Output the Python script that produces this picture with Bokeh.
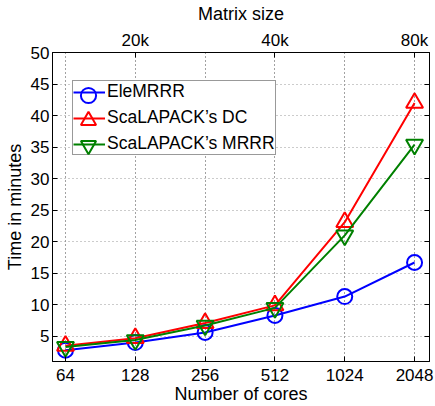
from bokeh.plotting import figure
from bokeh.models import (Range1d, LogAxis, FixedTicker, NumeralTickFormatter,
                          LinearAxis, Legend, LegendItem)
from bokeh.embed import file_html
from bokeh.resources import INLINE

# ---- data ----
cores = [64, 128, 256, 512, 1024, 2048]
matrix_ticks = [128, 512, 2048]
matrix_labels = ["20k", "40k", "80k"]
elemrrr = [2.8, 4.0, 5.6, 8.3, 11.3, 16.7]
scalapack_dc = [3.5, 4.7, 7.1, 9.9, 23.1, 42.0]
scalapack_mrrr = [3.3, 4.4, 6.7, 9.5, 21.0, 35.4]
y_ticks = [5, 10, 15, 20, 25, 30, 35, 40, 45, 50]

FONT = "Liberation Sans"
TICK_FS = "17px"
LABEL_FS = "18px"
LEG_FS = "17.5px"

p = figure(width=435, height=406, output_backend="svg", toolbar_location=None,
           x_axis_type="log",
           x_range=Range1d(64 / 2 ** 0.186, 2048 * 2 ** 0.214),
           y_range=Range1d(1, 50),
           min_border_left=52, min_border_right=6, min_border_top=49, min_border_bottom=40)
p.background_fill_color = "white"
p.border_fill_color = "white"
p.outline_line_color = "black"
p.outline_line_width = 1

def style_axis(ax):
    ax.major_tick_in = 5
    ax.major_tick_out = 0
    ax.minor_tick_line_color = None
    ax.axis_line_color = "black"
    ax.major_tick_line_color = "black"
    ax.major_label_text_font = FONT
    ax.major_label_text_font_size = TICK_FS
    ax.major_label_text_color = "black"
    ax.axis_label_text_font = FONT
    ax.axis_label_text_font_size = LABEL_FS
    ax.axis_label_text_font_style = "normal"
    ax.axis_label_text_color = "black"

# bottom axis
xa = p.xaxis[0]
xa.ticker = FixedTicker(ticks=cores)
xa.formatter = NumeralTickFormatter(format="0")
xa.axis_label = "Number of cores"
style_axis(xa)
xa.major_label_standoff = 7
xa.axis_label_standoff = 0

# left axis
ya = p.yaxis[0]
ya.ticker = FixedTicker(ticks=y_ticks)
ya.axis_label = "Time in minutes"
style_axis(ya)
ya.major_label_standoff = 3
ya.axis_label_standoff = 3

# top axis
top = LogAxis(ticker=FixedTicker(ticks=matrix_ticks), axis_label="Matrix size",
              major_label_overrides={t: l for t, l in zip(matrix_ticks, matrix_labels)})
style_axis(top)
top.major_label_standoff = 3
top.axis_label_standoff = 4
p.add_layout(top, "above")

# right axis (ticks only, no labels)
right = LinearAxis(ticker=FixedTicker(ticks=y_ticks),
                   major_label_overrides={t: "" for t in y_ticks})
style_axis(right)
right.major_label_standoff = 0
p.add_layout(right, "right")

# grids
p.xgrid.ticker = FixedTicker(ticks=cores)
p.xgrid.grid_line_color = "#444444"
p.xgrid.grid_line_dash = "1 3"
p.xgrid.grid_line_width = 1
p.ygrid.ticker = FixedTicker(ticks=y_ticks)
p.ygrid.grid_line_color = "#999999"
p.ygrid.grid_line_dash = "1 3"
p.ygrid.grid_line_width = 1

series = [
    ("EleMRRR", elemrrr, "#0000ff", "circle", 15),
    ("ScaLAPACK\u2019s DC", scalapack_dc, "#ff0000", "triangle", 17),
    ("ScaLAPACK\u2019s MRRR", scalapack_mrrr, "#008000", "inverted_triangle", 17),
]
line_items = []
marker_renderers = []
for name, vals, col, mk, sz in series:
    l = p.line(cores, vals, line_color=col, line_width=2)
    s = p.scatter(cores, vals, marker=mk, size=sz, line_color=col, line_width=2,
                  fill_color=None)
    line_items.append(LegendItem(label=name, renderers=[l]))
    marker_renderers.append(s)

LEG_X, LEG_Y = 20, 206
legend = Legend(items=line_items, location=(LEG_X, LEG_Y))
legend.label_text_font = FONT
legend.label_text_font_size = LEG_FS
legend.label_text_color = "black"
legend.border_line_color = "#333333"
legend.border_line_width = 1
legend.background_fill_color = "white"
legend.background_fill_alpha = 1
legend.glyph_width = 32
legend.glyph_height = 20
legend.label_height = 20
legend.label_standoff = 2
legend.spacing = 5
legend.padding = 0
legend.margin = 0
p.add_layout(legend, "center")

# full-size legend markers: one transparent single-item legend per series,
# centred on the matching row of the main legend
MG = 38
for i, s in enumerate(marker_renderers):
    row_center_from_bottom = LEG_Y + (3 - i) * 20 + (2 - i) * 5 - 10
    ml = Legend(items=[LegendItem(label=" ", renderers=[s])],
                location=(LEG_X + 16 - MG // 2, row_center_from_bottom - MG // 2))
    ml.border_line_color = None
    ml.background_fill_alpha = 0
    ml.glyph_width = MG
    ml.glyph_height = MG
    ml.label_height = MG
    ml.label_width = 0
    ml.label_standoff = 0
    ml.padding = 0
    ml.margin = 0
    ml.label_text_font = FONT
    ml.label_text_font_size = "10px"
    p.add_layout(ml, "center")

open("out.html", "w").write(file_html(p, INLINE))
